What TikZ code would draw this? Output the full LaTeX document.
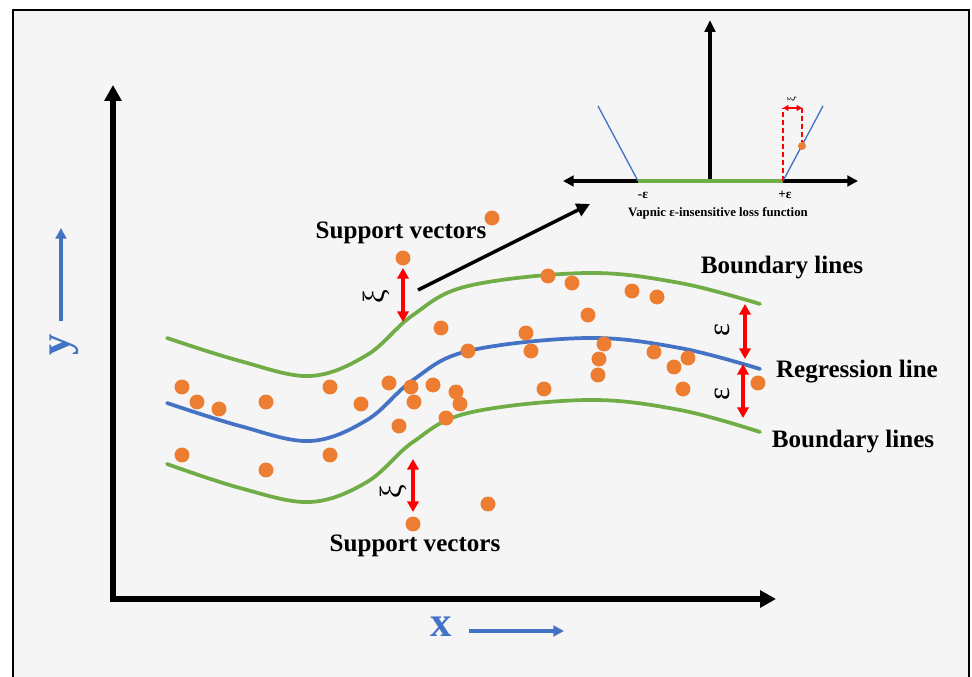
\documentclass[tikz,border=0pt]{standalone}
\usepackage{fontspec}
\setmainfont{Liberation Serif}
\usetikzlibrary{arrows.meta}
\definecolor{bgc}{HTML}{F5F5F5}
\definecolor{gline}{HTML}{70AD47}
\definecolor{bline}{HTML}{4472C4}
\definecolor{odot}{HTML}{ED7D31}
\definecolor{rarr}{HTML}{FF0000}
\begin{document}
\begin{tikzpicture}[x=0.75pt,y=-0.75pt,
  lbl/.style={font=\bfseries\fontsize{18.8}{21}\selectfont, inner sep=0pt},
  greek/.style={font=\fontsize{23}{25}\selectfont, rotate=90, inner sep=0pt},
  dot/.style={circle, fill=odot, minimum size=11.2pt, inner sep=0pt},
  curvestyle/.style={line width=2.8pt, line cap=round},
  redarrow/.style={rarr, line width=2.6pt, {Triangle[length=8pt,width=8.5pt]}-{Triangle[length=8pt,width=8.5pt]}},
  axisline/.style={line width=4.2pt, line join=miter, {Triangle[length=12pt,width=12.5pt]}-{Triangle[length=12pt,width=12.5pt]}},
  bluearrow/.style={bline, line width=2.6pt, -{Triangle[length=8pt,width=8pt]}},
  insetaxis/.style={line width=2.3pt, {Triangle[length=8pt,width=8pt]}-{Triangle[length=8pt,width=8pt]}}
]
\useasboundingbox (0,0) rectangle (972,677);
\fill[white] (0,0) rectangle (972,677);
\fill[bgc] (13,10) rectangle (969,677);
\draw[line width=1.5pt] (13,677) -- (13,10) -- (969,10) -- (969,677);

% main axes
\coordinate (ytip) at (113,85);
\coordinate (origin) at (113,599);
\coordinate (xtip) at (776,599);
\draw[axisline] (ytip) -- (origin) -- (xtip);

% blue axis labels
\node[font=\bfseries\fontsize{32}{34}\selectfont, text=bline, rotate=90, inner sep=0pt] (ylab) at (64,345) {y};
\coordinate (yb0) at (61,321);
\coordinate (yb1) at (61,228);
\draw[bluearrow] (yb0) -- (yb1);
\node[font=\bfseries\fontsize{32}{34}\selectfont, text=bline, inner sep=0pt] (xlab) at (441,627) {x};
\coordinate (xb0) at (469,631);
\coordinate (xb1) at (564,631);
\draw[bluearrow] (xb0) -- (xb1);

% curves
\draw[curvestyle, gline] plot[smooth, tension=0.6] coordinates {(167,338) (240,361) (310,376) (367,355) (413,315) (468,286) (587,273) (680,283) (760,304)};
\draw[curvestyle, bline] plot[smooth, tension=0.6] coordinates {(167,403) (240,426) (310,441) (367,420) (413,380) (468,351) (587,338) (680,348) (760,369)};
\draw[curvestyle, gline] plot[smooth, tension=0.6] coordinates {(167,464) (240,488) (310,502) (367,482) (413,442) (468,413) (587,400) (680,410) (760,432)};

% dots
\foreach \p [count=\i] in {(492,218),(403,258),(548,276),(572,283),(632,291),(657,297),(588,315),
  (441,328),(526,333),(468,351),(531,351),(604,344),(599,359),(654,352),(688,358),(674,367),(598,375),
  (182,387),(197,402),(219,409),(266,402),(330,387),(361,404),(389,383),(411,387),(414,402),(433,385),
  (456,392),(460,404),(446,418),(399,426),(544,389),(683,389),(758,383),
  (182,455),(266,470),(330,455),(488,504),(413,524)}
  \node[dot] (d\i) at \p {};

% xi arrows
\coordinate (xa0) at (403,268);
\coordinate (xa1) at (403,322);
\draw[redarrow] (xa0) -- (xa1);
\node[greek] (xi1) at (376,297) {ξ};
\coordinate (xb2) at (413,459);
\coordinate (xb3) at (413,512);
\draw[redarrow] (xb2) -- (xb3);
\node[greek] (xi2) at (393,492) {ξ};

% epsilon arrows
\coordinate (ea0) at (745,304);
\coordinate (ea1) at (745,359);
\coordinate (ea2) at (743,364);
\coordinate (ea3) at (743,418);
\draw[redarrow] (ea0) -- (ea1);
\draw[redarrow] (ea2) -- (ea3);
\node[greek] (ep1) at (722,330) {ε};
\node[greek] (ep2) at (722,394) {ε};

% labels
\node[lbl] (sv1) at (401,233) {Support vectors};
\node[lbl] (sv2) at (415,546) {Support vectors};
\node[lbl] (bl1) at (782,268) {Boundary lines};
\node[lbl] (rl) at (857,372) {Regression line};
\node[lbl] (bl2) at (853,442) {Boundary lines};

% pointer arrow to inset
\coordinate (pa0) at (418,290);
\coordinate (pa1) at (590,204);
\draw[line width=2.6pt, -{Triangle[length=10pt,width=10pt]}] (pa0) -- (pa1);

% inset
\coordinate (iv0) at (710,181);
\coordinate (iv1) at (710,20);
\draw[line width=2.5pt, -{Triangle[length=9pt,width=8pt]}] (iv0) -- (iv1);
\coordinate (ih0) at (563,181);
\coordinate (ih1) at (858,181);
\draw[insetaxis] (ih0) -- (ih1);
\coordinate (me) at (638,181);
\coordinate (pe) at (783,181);
\draw[gline, line width=3.2pt] (me) -- (pe);
\coordinate (lt) at (598,106);
\coordinate (rt) at (823,106);
\draw[bline, line width=1pt] (me) -- (lt);
\draw[bline, line width=1pt] (pe) -- (rt);
\coordinate (rd0) at (783,108);
\coordinate (rd1) at (802,108);
\node[circle, fill=odot, minimum size=6pt, inner sep=0pt] (idot) at (802,146) {};
\draw[rarr, line width=1.4pt, dash pattern=on 4pt off 2pt] (pe) -- (rd0);
\draw[rarr, line width=1.4pt, dash pattern=on 4pt off 2pt] (rd1) -- (idot.north);
\draw[rarr, line width=1.6pt, {Triangle[length=4pt,width=4.5pt]}-{Triangle[length=4pt,width=4.5pt]}] (rd0) -- (rd1);
\node[font=\fontsize{8}{9}\selectfont, rotate=90, inner sep=0pt] (ixi) at (792,99) {ξ};
\node[font=\bfseries\fontsize{10}{11}\selectfont, inner sep=0pt] (lme) at (643,195) {-ε};
\node[font=\bfseries\fontsize{10}{11}\selectfont, inner sep=0pt] (lpe) at (785,195) {+ε};
\node[font=\bfseries\fontsize{9.6}{11}\selectfont, inner sep=0pt] (vap) at (718,213) {Vapnic ε-insensitive loss function};
\end{tikzpicture}
\end{document}
